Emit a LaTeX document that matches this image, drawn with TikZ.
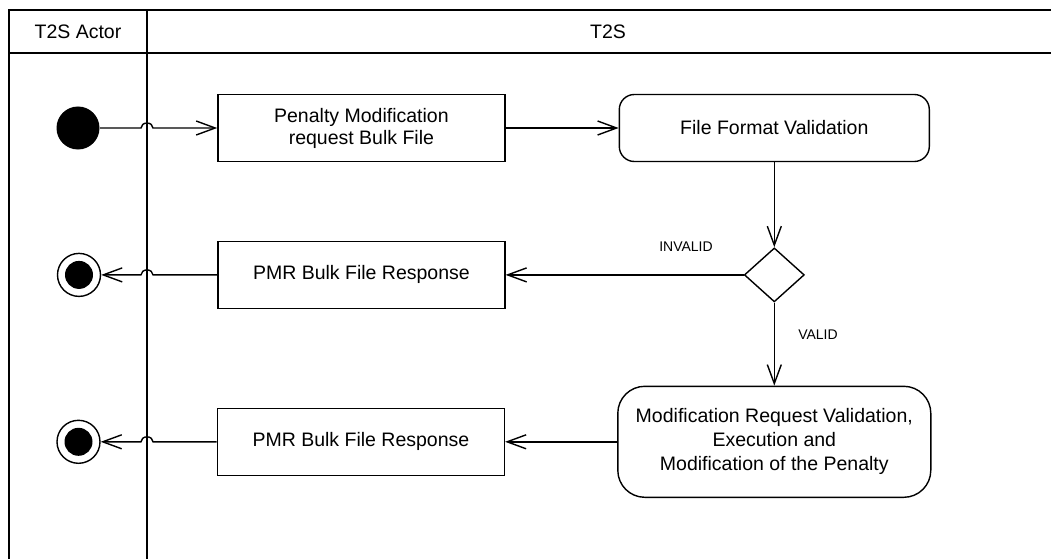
\documentclass[tikz,border=0pt]{standalone}
\usepackage{fontspec}
\setmainfont{Liberation Sans}
\usetikzlibrary{arrows.meta,positioning,shapes.geometric,calc}

\begin{document}
\begin{tikzpicture}[
      x=1pt,y=1pt,line width=1.4pt,
      box/.style={draw,align=center,inner sep=0pt,
        minimum width=287pt,minimum height=67pt,font=\fontsize{19.5}{22}\selectfont},
      action/.style={box,rounded corners=15pt,minimum width=310pt},
      decision/.style={draw,diamond,inner sep=0pt,minimum width=60pt,minimum height=54pt},
      startnode/.style={circle,fill,inner sep=0pt,minimum size=43pt},
      endnode/.style={circle,draw,inner sep=0pt,minimum size=43pt,
        path picture={\fill[black] (path picture bounding box.center) circle (14pt);}},
      guard/.style={font=\fontsize{14}{16}\selectfont,inner sep=0pt},
      lanetitle/.style={font=\fontsize{19.5}{22}\selectfont,inner sep=0pt},
      lane/.style={line width=2pt},
      arrow/.style={-{Straight Barb[length=19pt,width=14pt]}}
    ]
      \useasboundingbox (0,0) rectangle (1051,-559);
      % swimlanes
      \draw[lane] (9,-559) -- (9,-10) -- (1051,-10);
      \draw[lane] (9,-53) -- (1051,-53);
      \draw[lane] (147,-10) -- (147,-559);
      \coordinate (lanesep) at (147,-53);
      \node[lanetitle] (actortitle) at (78,-31.5) {T2S Actor};
      \node[lanetitle] (t2stitle) at (608,-31.5) {T2S};
      % activities
      \node[startnode] (init) at (78,-128) {};
      \node[box,right=117pt of init] (request) {Penalty Modification\\request Bulk File};
      \node[action,right=113pt of request] (format) {File Format Validation};
      \node[decision,below=85pt of format] (check) {};
      \node[box,left=238pt of check] (resp1) {PMR Bulk File Response};
      \node[endnode,left=116pt of resp1] (end1) {};
      \node[action,rounded corners=27pt,minimum width=313pt,minimum height=111pt,
        font=\fontsize{19.5}{24}\selectfont,below=83pt of check] (execute)
        {Modification Request Validation,\\Execution and\\Modification of the Penalty};
      \node[box,left=112pt of execute] (resp2) {PMR Bulk File Response};
      \node[endnode,left=116pt of resp2] (end2) {};
      \node[guard] (invalid) at (686,-247) {INVALID};
      \node[guard] (valid) at (818,-335) {VALID};
      % flows
      \draw[arrow] (init) -- ($(init -| lanesep)+(-6,0)$)
        arc[start angle=180,end angle=0,x radius=6,y radius=5] -- (request);
      \draw[arrow] (request) -- (format);
      \draw[arrow] (format) -- (check);
      \draw[arrow] (check) -- (resp1);
      \draw[arrow] (resp1) -- ($(resp1 -| lanesep)+(6,0)$)
        arc[start angle=0,end angle=180,x radius=6,y radius=5] -- (end1);
      \draw[arrow] (check) -- (execute);
      \draw[arrow] (execute) -- (resp2);
      \draw[arrow] (resp2) -- ($(resp2 -| lanesep)+(6,0)$)
        arc[start angle=0,end angle=180,x radius=6,y radius=5] -- (end2);
    \end{tikzpicture}
\end{document}
